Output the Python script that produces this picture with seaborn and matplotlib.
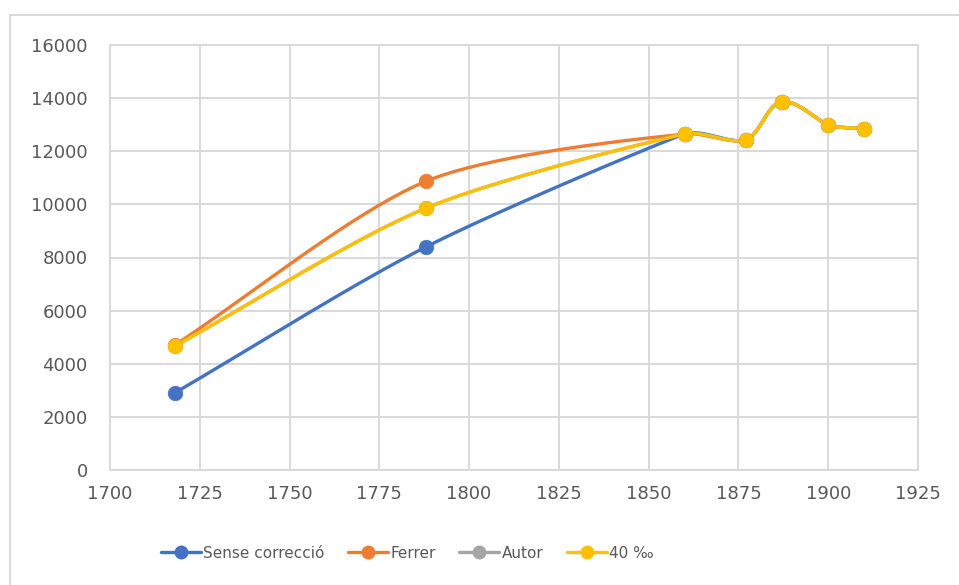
import numpy as np
import pandas as pd
import matplotlib
matplotlib.use("Agg")
import matplotlib.pyplot as plt
from matplotlib.lines import Line2D
import seaborn as sns

# ---- data ----
years = [1718, 1788, 1860, 1877, 1887, 1900, 1910]
sense_correccio = [2900, 8400, 12650, 12430, 13860, 12990, 12850]
ferrer = [4700, 10870, 12650, 12430, 13860, 12990, 12850]
autor = [4660, 9860, 12650, 12430, 13860, 12990, 12850]
quaranta = [4660, 9860, 12650, 12430, 13860, 12990, 12850]

series_names = ["Sense correcció", "Ferrer", "Autor", "40 ‰"]
series_values = [sense_correccio, ferrer, autor, quaranta]
colors = ["#4472C4", "#ED7D31", "#A5A5A5", "#FFC000"]

x_ticks = list(range(1700, 1926, 25))
y_ticks = list(range(0, 16001, 2000))

# display scale (pixels per data unit) used for smoothing in screen space
SX = 808 / 225.0
SY = 425 / 16000.0


def smooth(xs, ys, n=40, t=0.3):
    """Smoothed line through the data points (cubic Bezier, length-limited tangents)."""
    P = np.column_stack([np.asarray(xs, float) * SX, np.asarray(ys, float) * SY])
    m = len(P)
    seglen = np.linalg.norm(np.diff(P, axis=0), axis=1)
    dirs, arms = [], []
    for i in range(m):
        a = P[i - 1] if i > 0 else P[i]
        b = P[i + 1] if i < m - 1 else P[i]
        v = b - a
        dirs.append(v / np.linalg.norm(v))
        near = [seglen[j] for j in (i - 1, i) if 0 <= j < m - 1]
        arms.append(t * min(near))
    out = []
    tt = np.linspace(0, 1, n)
    for i in range(m - 1):
        p1, p2 = P[i], P[i + 1]
        c1 = p1 + dirs[i] * arms[i]
        c2 = p2 - dirs[i + 1] * arms[i + 1]
        seg = ((1 - tt) ** 3)[:, None] * p1 + (3 * (1 - tt) ** 2 * tt)[:, None] * c1 \
            + (3 * (1 - tt) * tt ** 2)[:, None] * c2 + (tt ** 3)[:, None] * p2
        out.append(seg if i == 0 else seg[1:])
    C = np.vstack(out)
    return C[:, 0] / SX, C[:, 1] / SY


sns.set_theme(style="white")
plt.rcParams["font.family"] = ["DejaVu Sans"]

fig = plt.figure(figsize=(9.59, 5.85), dpi=100)
ax = fig.add_axes([110 / 959, 1 - 470 / 585, (918 - 110) / 959, (470 - 45) / 585])

grid_c = "#D9D9D9"
text_c = "#595959"

for name, vals, c in zip(series_names, series_values, colors):
    cx, cy = smooth(years, vals)
    df_c = pd.DataFrame({"x": cx, "y": cy})
    sns.lineplot(data=df_c, x="x", y="y", ax=ax, color=c, linewidth=2.4,
                 sort=False, estimator=None, solid_capstyle="round", zorder=3)
    df_p = pd.DataFrame({"x": years, "y": vals})
    sns.scatterplot(data=df_p, x="x", y="y", ax=ax, color=c, s=110,
                    edgecolor=c, linewidth=0.5, zorder=4)

ax.set_xlim(1700, 1925)
ax.set_ylim(0, 16000)
ax.set_xticks(x_ticks)
ax.set_yticks(y_ticks)
ax.set_xticklabels([str(v) for v in x_ticks])
ax.set_yticklabels([str(v) for v in y_ticks])
ax.set_xlabel("")
ax.set_ylabel("")
ax.grid(True, color=grid_c, linewidth=1.4)
ax.set_axisbelow(True)
for s in ax.spines.values():
    s.set_color(grid_c)
    s.set_linewidth(1.4)
ax.tick_params(axis="both", length=0, labelsize=13, labelcolor=text_c)
ax.tick_params(axis="y", pad=16)
ax.tick_params(axis="x", pad=11)

handles = [Line2D([0], [0], color=c, lw=2.4, marker="o", markersize=9,
                  markeredgecolor=c) for c in colors]
fig.legend(handles, series_names, loc="center", bbox_to_anchor=(407.5 / 959, 1 - 553 / 585),
           ncol=4, frameon=False, fontsize=11, labelcolor=text_c,
           handlelength=2.6, handletextpad=0.15, columnspacing=1.55)

# outer chart frame (left and top edges visible)
fx = 10 / 959
fy = 1 - 15 / 585
fig.add_artist(Line2D([fx, fx], [0, fy], transform=fig.transFigure, color=grid_c, lw=1.4))
fig.add_artist(Line2D([fx, 1], [fy, fy], transform=fig.transFigure, color=grid_c, lw=1.4))

fig.savefig("out.png", dpi=100, facecolor="white")
